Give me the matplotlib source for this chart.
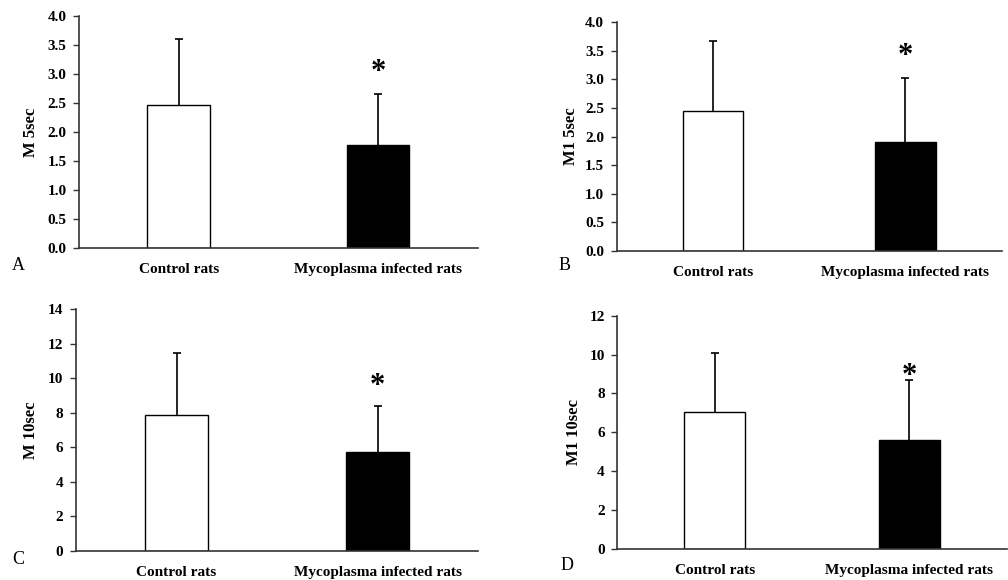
import matplotlib
matplotlib.use("Agg")
import matplotlib.pyplot as plt
import numpy as np

plt.rcParams['font.family'] = ['Liberation Serif', 'DejaVu Serif']

categories = ["Control rats", "Mycoplasma infected rats"]
panel_letters = ["A", "B", "C", "D"]
ylabels = ["M 5sec", "M1 5sec", "M 10sec", "M1 10sec"]

m5_means = [2.47, 1.78]
m5_sd = [1.13, 0.88]
m1_5_means = [2.44, 1.91]
m1_5_sd = [1.24, 1.12]
m10_means = [7.87, 5.72]
m10_sd = [3.61, 2.67]
m1_10_means = [7.02, 5.61]
m1_10_sd = [3.06, 3.08]

yticks_5 = [0.0, 0.5, 1.0, 1.5, 2.0, 2.5, 3.0, 3.5, 4.0]
yticks_m10 = [0, 2, 4, 6, 8, 10, 12, 14]
yticks_m1_10 = [0, 2, 4, 6, 8, 10, 12]

panels = [
    (m5_means, m5_sd, yticks_5, "{:.1f}"),
    (m1_5_means, m1_5_sd, yticks_5, "{:.1f}"),
    (m10_means, m10_sd, yticks_m10, "{:d}"),
    (m1_10_means, m1_10_sd, yticks_m1_10, "{:d}"),
]

W, H = 1008, 580
# axes boxes in pixels: left, right, top, bottom
boxes = [
    (79, 477.7, 15.7, 248.0),
    (616.7, 1001.7, 22.3, 250.7),
    (76, 478.0, 309.3, 550.7),
    (617.3, 1006.7, 315.7, 548.7),
]
letter_pos = [(18, 266), (565, 266), (18, 560), (567, 566)]
star_offsets = [15, 15, 14, 2.5]
ylabel_x = [39, 579, 39, 582]

fig = plt.figure(figsize=(W / 100, H / 100), dpi=100)
axis_color = "#333333"
x = np.arange(len(categories))

for i, (means, sds, yt, fmt) in enumerate(panels):
    l, r, t, b = boxes[i]
    ax = fig.add_axes([l / W, 1 - b / H, (r - l) / W, (b - t) / H])
    tops = np.array(means) + np.array(sds)
    ax.bar(x, means, width=0.315, color=["white", "black"], edgecolor="black",
           linewidth=1.0, zorder=2)
    ax.vlines(x, means, tops, colors="black", linewidth=1.2, zorder=1)
    ax.plot(x, tops, linestyle="none", marker="_", markersize=6,
            markeredgewidth=1.2, color="black", zorder=1)
    ax.set_xlim(-0.5, 1.5)
    ax.set_ylim(yt[0], yt[-1])
    ax.set_yticks(yt)
    ax.set_yticklabels([fmt.format(v) for v in yt], fontsize=11, fontweight="bold")
    ax.set_xticks(x)
    ax.set_xticklabels(categories, fontsize=11, fontweight="bold")
    ax.tick_params(axis="x", length=0, pad=11)
    ax.tick_params(axis="y", length=4, width=1, color=axis_color, pad=5, direction="out")
    for s in ["top", "right"]:
        ax.spines[s].set_visible(False)
    for s in ["left", "bottom"]:
        ax.spines[s].set_color(axis_color)
        ax.spines[s].set_linewidth(1.2)
    ax.set_ylabel(ylabels[i], fontsize=12, fontweight="bold")
    ax.yaxis.set_label_coords((ylabel_x[i] - l) / (r - l), 0.5)
    # significance star above infected bar
    ax.annotate("*", xy=(x[1], tops[1]), xytext=(0, star_offsets[i]),
                textcoords="offset points", ha="center", va="center",
                fontsize=22, fontweight="bold")
    lx, ly = letter_pos[i]
    fig.text(lx / W, 1 - ly / H, panel_letters[i], fontsize=13, ha="center", va="center")

fig.savefig("out.png", dpi=100, facecolor="white")
